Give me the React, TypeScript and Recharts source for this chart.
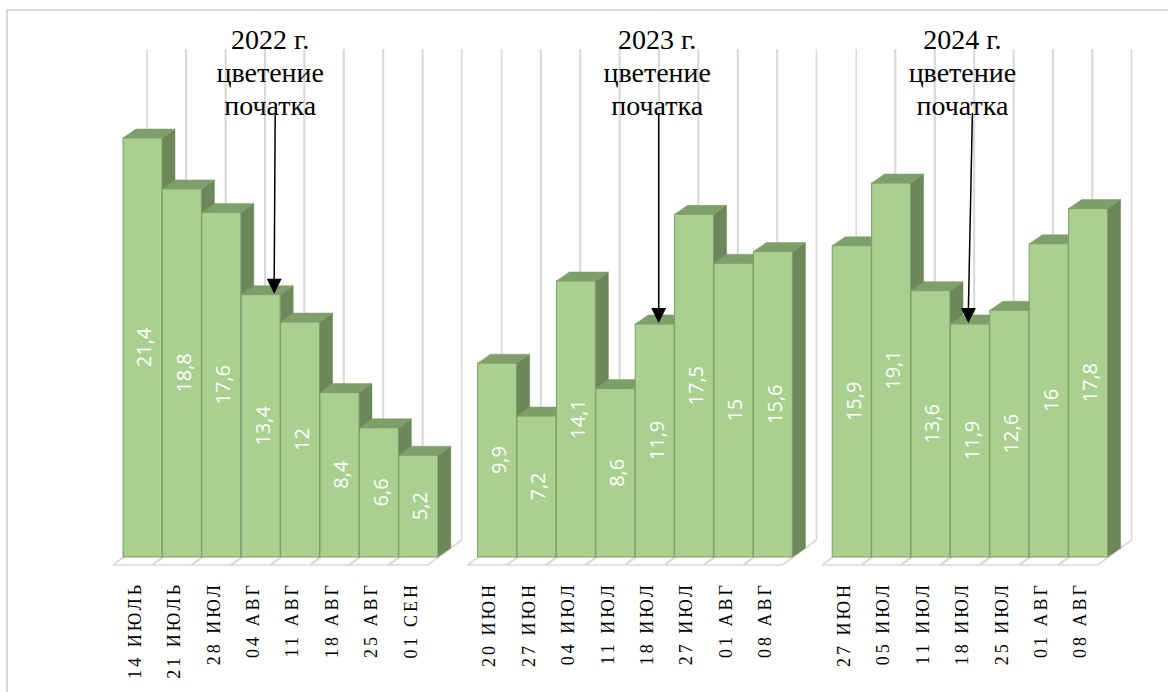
import React from 'react';
import { BarChart, Bar, XAxis, YAxis, LabelList } from 'recharts';

// ---- data ----
const labels2022 = ['14 ИЮЛЬ', '21 ИЮЛЬ', '28 ИЮЛ', '04 АВГ', '11 АВГ', '18 АВГ', '25 АВГ', '01 СЕН'];
const values2022 = [21.4, 18.8, 17.6, 13.4, 12, 8.4, 6.6, 5.2];
const labels2023 = ['20 ИЮН', '27 ИЮН', '04 ИЮЛ', '11 ИЮЛ', '18 ИЮЛ', '27 ИЮЛ', '01 АВГ', '08 АВГ'];
const values2023 = [9.9, 7.2, 14.1, 8.6, 11.9, 17.5, 15, 15.6];
const labels2024 = ['27 ИЮН', '05 ИЮЛ', '11 ИЮЛ', '18 ИЮЛ', '25 ИЮЛ', '01 АВГ', '08 АВГ'];
const values2024 = [15.9, 19.1, 13.6, 11.9, 12.6, 16, 17.8];
const yearTitles = ['2022 г.', '2023 г.', '2024 г.'];
const floweringDates = ['04 АВГ', '18 ИЮЛ', '18 ИЮЛ'];
const noteLines = ['цветение', 'початка'];
const Y_MAX = 25;

// ---- styles ----
const FRONT = '#A9D08E';
const TOP = '#7F9F6A';
const SIDE = '#6C875A';
const EDGE = '#7E9C69';
const GRID = '#D9D9D9';
const DX = 13;
const DY = 9;
// annotation offsets from bar left edge: [text center, arrow top, arrow tip]
const noteOffsets = [
  [29, 34, 33],
  [22, 23.5, 23.5],
  [12, 22, 18],
];

type Row = { id: string; label: string; value: number | null; group: number; flowering: boolean };

const groups = [
  { labels: labels2022, values: values2022 },
  { labels: labels2023, values: values2023 },
  { labels: labels2024, values: values2024 },
];

const rows: Row[] = [];
groups.forEach((g, gi) => {
  if (gi > 0) rows.push({ id: `gap${gi}`, label: '', value: null, group: -1, flowering: false });
  g.labels.forEach((lab, i) =>
    rows.push({ id: `${gi}|${lab}`, label: lab, value: g.values[i], group: gi, flowering: lab === floweringDates[gi] })
  );
});
const barRows = rows.filter((r) => r.value != null);

function Bar3D(props: any) {
  const { x, y, width: w, height: h, payload } = props;
  if (!payload || payload.value == null || !isFinite(y) || !isFinite(h)) return null;
  const top = `M${x},${y} L${x + DX},${y - DY} L${x + w + DX},${y - DY} L${x + w},${y} Z`;
  const side = `M${x + w},${y} L${x + w + DX},${y - DY} L${x + w + DX},${y + h - DY} L${x + w},${y + h} Z`;
  return (
    <g>
      <path d={side} fill={SIDE} stroke={SIDE} strokeWidth={0.5} />
      <path d={top} fill={TOP} stroke={TOP} strokeWidth={0.5} />
      <rect x={x} y={y} width={w} height={h} fill={FRONT} stroke={EDGE} strokeWidth={1} />
    </g>
  );
}

function Wall(props: any) {
  const { x, y, width: w, height: h } = props;
  if (!isFinite(x) || !isFinite(y)) return null;
  const bottom = y + h;
  return (
    <g stroke={GRID} strokeWidth={1.6} fill="none">
      {[x, x + w].map((b, i) => (
        <g key={i}>
          <line x1={b + 24} y1={y - 18.5} x2={b + 24} y2={bottom - 17} />
          <line x1={b - 10} y1={bottom + 8} x2={b + 24} y2={bottom - 17} />
        </g>
      ))}
      <line x1={x - 10} y1={bottom + 8} x2={x + w - 10} y2={bottom + 8} />
    </g>
  );
}

function fmt(v: number) {
  return String(v).replace('.', ',');
}

function ValueLabel(props: any) {
  const vb = props.viewBox || props;
  const { x, y, width, height } = vb;
  const value = props.value;
  if (value == null || !isFinite(x) || !isFinite(y)) return null;
  const cx = x + width / 2 + 1.5;
  const cy = y + height / 2;
  return (
    <text
      x={cx}
      y={cy}
      transform={`rotate(-90 ${cx} ${cy})`}
      textAnchor="middle"
      dominantBaseline="central"
      fill="#FFFFFF"
      fontSize={20}
      fontFamily="'Open Sans', sans-serif"
    >
      {fmt(value)}
    </text>
  );
}

function Note(props: any) {
  const vb = props.viewBox || props;
  const { x, y, height } = vb;
  const row = barRows[props.index];
  if (!row || !row.flowering || row.value == null) return null;
  const ppu = height / row.value;
  const plotTop = y + height - Y_MAX * ppu;
  const [tdx, adx1, adx2] = noteOffsets[row.group];
  const tx = x + tdx;
  const ax1 = x + adx1;
  const ax2 = x + adx2;
  const tipY = y - 1;
  const headH = 15;
  const headW = 7.5;
  const lines = [yearTitles[row.group], ...noteLines];
  return (
    <g>
      {lines.map((t, i) => (
        <text
          key={i}
          x={tx}
          y={plotTop - 18.5 + i * 33}
          textAnchor="middle"
          fontSize={28}
          fontFamily="'Liberation Serif', 'Times New Roman', serif"
          fill="#000"
        >
          {t}
        </text>
      ))}
      <line x1={ax1} y1={plotTop + 45.5} x2={ax2} y2={tipY - headH + 1} stroke="#000" strokeWidth={1.5} />
      <path d={`M${ax2 - headW},${tipY - headH} L${ax2 + headW},${tipY - headH} L${ax2},${tipY} Z`} fill="#000" />
    </g>
  );
}

function Tick(props: any) {
  const { x, y, payload } = props;
  const row = rows.find((r) => r.id === payload.value);
  if (!row || !row.label) return null;
  const tx = x - 8;
  const ty = y + 25;
  return (
    <text
      x={tx}
      y={ty}
      transform={`rotate(-90 ${tx} ${ty})`}
      textAnchor="end"
      dominantBaseline="central"
      fontSize={18}
      letterSpacing={3}
      fontFamily="'Liberation Serif', 'Times New Roman', serif"
      fill="#000"
    >
      {row.label}
    </text>
  );
}

export default function App() {
  return (
    <div style={{ position: 'absolute', left: 0, top: 0, width: 1168, height: 692, background: '#fff', overflow: 'hidden' }}>
      <div
        style={{
          position: 'absolute',
          left: 6,
          top: 9,
          width: 1200,
          height: 720,
          border: `2px solid ${GRID}`,
          boxSizing: 'border-box',
        }}
      />
      <div style={{ position: 'absolute', left: 0, top: 0 }}>
        <BarChart
          width={1168}
          height={692}
          data={rows}
          margin={{ top: 67.5, right: 60, bottom: 0, left: 123 }}
          barCategoryGap={0}
          barGap={0}
        >
          <XAxis
            dataKey="id"
            height={135}
            axisLine={false}
            tickLine={false}
            tickSize={0}
            tickMargin={0}
            interval={0}
            tick={<Tick />}
          />
          <YAxis hide domain={[0, Y_MAX]} type="number" />
          <Bar dataKey="value" isAnimationActive={false} shape={<Bar3D />} background={<Wall />}>
            <LabelList dataKey="value" content={<ValueLabel />} />
            <LabelList dataKey="value" content={<Note />} />
          </Bar>
        </BarChart>
      </div>
    </div>
  );
}
